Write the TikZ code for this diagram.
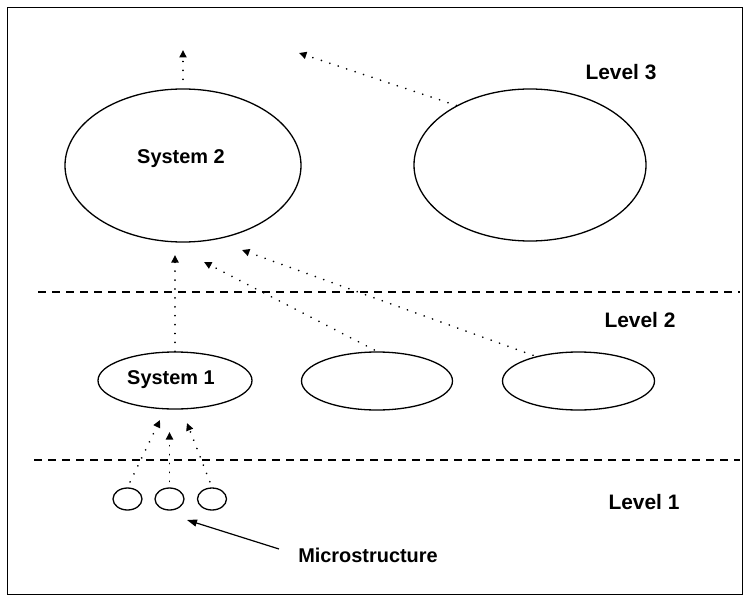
\documentclass[tikz,border=0pt]{standalone}
\usepackage{fontspec}
\setmainfont{Liberation Sans}
\usetikzlibrary{shapes.geometric,arrows.meta}
\tikzset{
  blob/.style={ellipse, draw, line width=1.3bp, inner sep=0pt},
  lbl/.style={font=\fontsize{20}{24}\selectfont\bfseries, inner sep=0pt},
  lvl/.style={font=\fontsize{21}{25}\selectfont\bfseries, inner sep=0pt},
  link/.style={line width=1.8bp, line cap=round, dash pattern=on 0.1bp off 8.8bp,
    -{Triangle[length=7.5bp,width=7bp]}},
  divider/.style={line width=1.3bp, dash pattern=on 8bp off 6bp},
}
\begin{document}
\begin{tikzpicture}[x=1bp,y=-1bp]
  \useasboundingbox (0,0) rectangle (745,597);
  \draw[line width=1.6bp] (7.5,7.5) rectangle (742.5,594.5);

  % level dividers
  \draw[divider] (38,292) -- (740,292);
  \draw[divider] (34,460) -- (740,460);

  % level 3
  \node[blob, minimum width=236bp, minimum height=153bp] (s2) at (183,165.5) {};
  \node[lbl] at (181,159) {System 2};
  \node[blob, minimum width=232bp, minimum height=152bp] (r3) at (530,165) {};

  % level 2
  \node[blob, minimum width=154bp, minimum height=57bp] (s1) at (175,380.5) {};
  \node[lbl] at (171,380) {System 1};
  \node[blob, minimum width=151bp, minimum height=58bp] (m2) at (377,381) {};
  \node[blob, minimum width=152bp, minimum height=58bp] (r2) at (578.5,381) {};

  % level 1
  \node[blob, minimum width=29bp, minimum height=22bp] (c1) at (127.5,499) {};
  \node[blob, minimum width=29bp, minimum height=22bp] (c2) at (169.5,499) {};
  \node[blob, minimum width=29bp, minimum height=22bp] (c3) at (212,499) {};

  % labels
  \node[lvl] (l3) at (621,72) {Level 3};
  \node[lvl] (l2) at (640,320) {Level 2};
  \node[lvl] (l1) at (644,502) {Level 1};
  \node[lbl] (micro) at (368,555) {Microstructure};

  % arrow ends
  \coordinate (u1) at (183,50);
  \coordinate (u2) at (299,53);
  \coordinate (a1) at (175,255);
  \coordinate (a2) at (204,262);
  \coordinate (a3) at (242,250);
  \coordinate (b1) at (160,420);
  \coordinate (b2) at (169.5,432);
  \coordinate (b3) at (187,423);
  \coordinate (mc) at (187,520);

  % upward links
  \draw[link, shorten <=9bp] (s2.north) -- (u1);
  \draw[link] (r3.141) -- (u2);
  \draw[link] (s1.north) -- (a1);
  \draw[link, shorten <=3bp] (m2.north) -- (a2);
  \draw[link, shorten <=3bp] (r2.150) -- (a3);
  \draw[link, shorten <=6bp] (c1.north) -- (b1);
  \draw[link, shorten <=6bp] (c2.north) -- (b2);
  \draw[link, shorten <=6bp] (c3.north) -- (b3);

  % pointer to the microstructure
  \draw[line width=1.2bp, -{Triangle[length=10bp,width=7bp]}, shorten <=20bp]
    (micro.west) -- (mc);
\end{tikzpicture}
\end{document}
